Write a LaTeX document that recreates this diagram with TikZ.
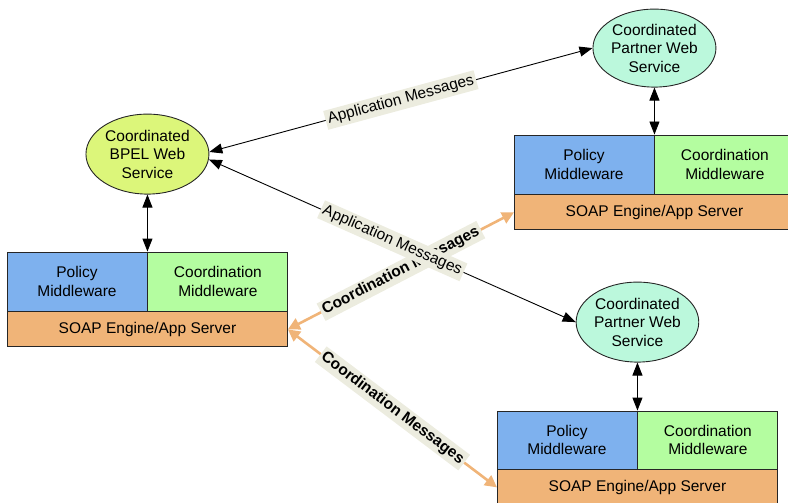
\documentclass[tikz,border=0pt]{standalone}
\usepackage{fontspec}
\setmainfont{Liberation Sans}
\usetikzlibrary{positioning}
\usetikzlibrary{shapes.geometric}
\usetikzlibrary{arrows.meta}

\definecolor{polblue}{HTML}{7EB1EE}
\definecolor{coordgreen}{HTML}{B4FDA0}
\definecolor{soaporange}{HTML}{F0B478}
\definecolor{bpelyellow}{HTML}{DCF67A}
\definecolor{partnermint}{HTML}{BBF8DC}
\definecolor{labbeige}{HTML}{ECECDF}

\begin{document}
\begin{tikzpicture}[
  x=1pt,y=1pt,
  font=\fontsize{15.5}{18.5}\selectfont,
  box/.style={draw=black!85,line width=0.9pt,minimum width=140pt,minimum height=59pt,inner sep=0pt,align=center},
  polbox/.style={box,fill=polblue},
  coordbox/.style={box,fill=coordgreen},
  soapbox/.style={draw=black!85,line width=0.9pt,fill=soaporange,minimum width=280pt,minimum height=35pt,inner sep=0pt},
  svc/.style={draw=black!85,line width=0.9pt,ellipse,minimum width=123pt,minimum height=80pt,inner sep=0pt,align=center},
  appmsg/.style={draw=black,line width=0.9pt,{Triangle[length=13pt,width=10pt]}-{Triangle[length=13pt,width=10pt]}},
  coordmsg/.style={draw=soaporange,line width=2.6pt,{Triangle[length=12pt,width=12pt]}-{Triangle[length=12pt,width=12pt]}},
  lab/.style={fill=labbeige,inner sep=2.5pt,sloped}
]
\useasboundingbox (0,0) rectangle (788,-503);

% left stack
\node[polbox] (polL) at (77,-281.5) {Policy\\Middleware};
\node[coordbox,right=0pt of polL] (coordL) {Coordination\\Middleware};
\node[soapbox,below=0pt of polL.south east] (soapL) {SOAP Engine/App Server};
\node[svc,fill=bpelyellow,above=57pt of polL.north east] (bpel) {Coordinated\\BPEL Web\\Service};

% upper right stack
\node[polbox] (polA) at (584,-164.5) {Policy\\Middleware};
\node[coordbox,right=0pt of polA] (coordA) {Coordination\\Middleware};
\node[soapbox,below=0pt of polA.south east] (soapA) {SOAP Engine/App Server};
\node[svc,fill=partnermint,above=47pt of polA.north east,minimum height=78pt] (pa) {Coordinated\\Partner Web\\Service};

% lower right stack
\node[polbox,minimum height=58pt] (polB) at (567,-440) {Policy\\Middleware};
\node[coordbox,minimum height=58pt,right=0pt of polB] (coordB) {Coordination\\Middleware};
\node[soapbox,below=0pt of polB.south east] (soapB) {SOAP Engine/App Server};
\node[svc,fill=partnermint,above=48pt of polB.north east,minimum width=122pt] (pb) {Coordinated\\Partner Web\\Service};

\path (bpel.south) edge[appmsg] (polL.north east)
(pa.south) edge[appmsg] (polA.north east)
(pb.south) edge[appmsg] (polB.north east)
;

\path (soapL.east) edge[coordmsg] node[lab] {\bfseries Coordination Messages} (soapA.west)
(soapL.east) edge[coordmsg] node[lab] {\bfseries Coordination Messages} (soapB.west)
;

\path (bpel.2) edge[appmsg] node[lab] {Application Messages} (pa.west)
(bpel.-5) edge[appmsg] node[lab] {Application Messages} (pb.west)
;

\end{tikzpicture}
\end{document}
